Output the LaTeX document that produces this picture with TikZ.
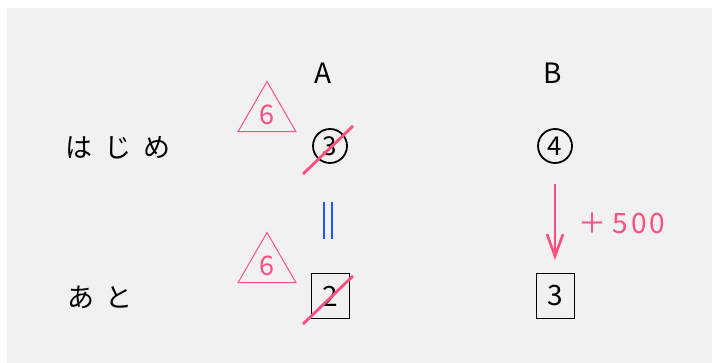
\documentclass[tikz,border=0pt]{standalone}
\usepackage{fontspec}
\newfontfamily\jpfont{Noto Sans CJK JP}
\usetikzlibrary{arrows.meta, positioning, shapes.geometric, calc}
\definecolor{haikei}{HTML}{F1F1F1}
\definecolor{akapen}{HTML}{FF4F7E}
\definecolor{aopen}{HTML}{2255FF}

\begin{document}
\begin{tikzpicture}[x=0.5pt, y=-0.5pt,
      every node/.style={font=\jpfont\fontsize{13.5}{15}\selectfont},
      maru/.style={draw, circle, line width=0.9pt, minimum size=17pt, inner sep=0pt,
                   font=\jpfont\fontsize{13}{14}\selectfont},
      waku/.style={draw, rectangle, line width=0.5pt, minimum width=19pt,
                   minimum height=22.5pt, inner sep=0pt,
                   font=\jpfont\fontsize{14}{16}\selectfont},
      sankaku/.style={draw=akapen, regular polygon, regular polygon sides=3,
                      minimum size=33.5pt, inner sep=0pt, line width=0.5pt,
                      text=akapen},
      keshi/.style={draw=akapen, line width=1.4pt},
      >={Straight Barb[length=11pt, width=8pt]}]
    \useasboundingbox (0,0) rectangle (712,363);
    \fill[haikei] (7,8) rectangle (712,363);
    % zeilen und spalten
    \node (hajime) at (118,148) {は\hspace{6pt}じ\hspace{6pt}め};
    \node (ato) at (100,297) {あ\hspace{6pt}と};
    \node[font=\jpfont\fontsize{14}{16}\selectfont] (colA) at (323,73) {A};
    \node[font=\jpfont\fontsize{14}{16}\selectfont] (colB) at (553,73) {B};
    \node[maru] (a1) at (330,146) {3};
    \node[maru] (b1) at (555,146) {4};
    \node[waku] (a2) at (330,296) {2};
    \node[waku] (b2) at (555,296) {3};
    \foreach \n/\y in {t1/115, t2/266} {
      \node[sankaku] (\n) at (267,\y) {6};
    }
    % durchgestrichen
    \foreach \n in {a1, a2} {
      \draw[keshi] ($(\n)+(-27,28)$) -- ($(\n)+(23,-20)$);
    }
    \coordinate (eq) at (328,220);
    \draw[aopen, line width=1pt] ($(eq)+(-4,-18)$) -- ++(0,37);
    \draw[aopen, line width=1pt] ($(eq)+(4,-18)$) -- ++(0,37);
    \draw[->, akapen, line width=1.3pt, shorten <=10pt, shorten >=6.5pt]
      (b1) -- (b2);
    \node[text=akapen, font=\jpfont\fontsize{14}{16}\selectfont] (plus) at (622,223)
      {＋\hspace{3pt}5\hspace{1.5pt}0\hspace{1.5pt}0};
  \end{tikzpicture}
\end{document}
